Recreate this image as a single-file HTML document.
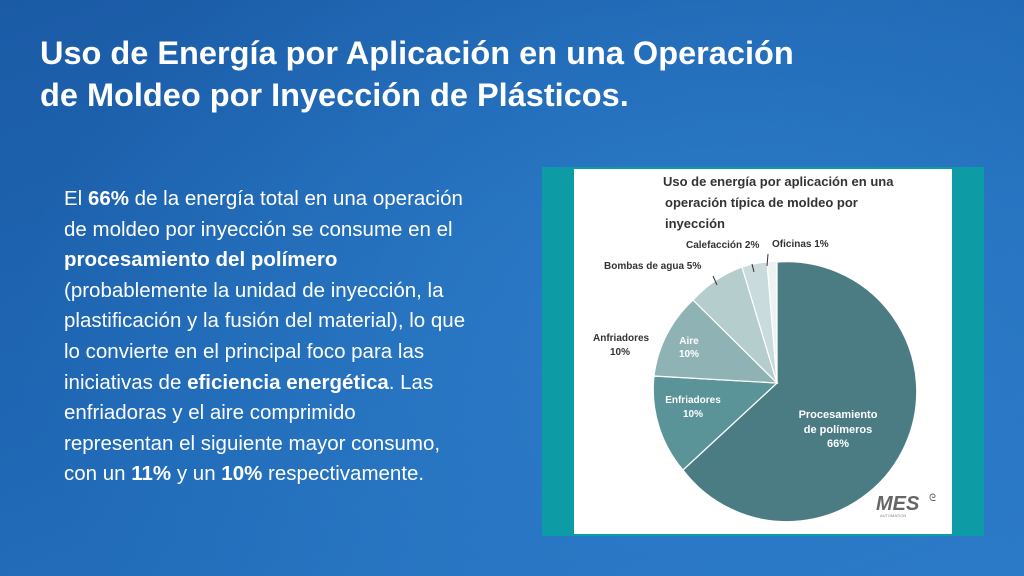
<!DOCTYPE html>
<html><head><meta charset="utf-8"><style>
html,body{margin:0;padding:0}
body{width:1024px;height:576px;overflow:hidden;position:relative;font-family:"Liberation Sans",sans-serif;
background:radial-gradient(ellipse 700px 500px at 720px 330px,#2d7dca 0%,rgba(45,125,202,0) 100%),linear-gradient(160deg,#1b5ba6 0%,#1f68b5 50%,#2a78c6 100%);}
h1{position:absolute;left:40px;top:32px;margin:0;color:#fff;font-size:32.5px;line-height:42px;font-weight:bold;white-space:nowrap}
.body{position:absolute;left:64px;top:184px;color:#fff;font-size:20.5px;line-height:30.6px;white-space:nowrap}
.chart{position:absolute;left:542px;top:167px;width:442px;height:369px;background:#0d9ba6}
.inner{position:absolute;left:32px;top:2px;width:378px;height:365px;background:#fff}
</style></head><body>
<h1>Uso de Energía por Aplicación en una Operación<br>de Moldeo por Inyección de Plásticos.</h1>
<div class="body">El <b>66%</b> de la energía total en una operación<br>de moldeo por inyección se consume en el<br><b>procesamiento del polímero</b><br>(probablemente la unidad de inyección, la<br>plastificación y la fusión del material), lo que<br>lo convierte en el principal foco para las<br>iniciativas de <b>eficiencia energética</b>. Las<br>enfriadoras y el aire comprimido<br>representan el siguiente mayor consumo,<br>con un <b>11%</b> y un <b>10%</b> respectivamente.</div>
<div class="chart"><div class="inner"></div></div>
<svg style="position:absolute;left:0;top:0" width="1024" height="576" font-family="Liberation Sans,sans-serif">
<g font-size="13" font-weight="bold" fill="#333">
<text x="663" y="186">Uso de energía por aplicación en una</text>
<text x="665" y="207">operación típica de moldeo por</text>
<text x="665" y="228">inyección</text>
</g>
<g stroke="#fff" stroke-width="1.2">
<path d="M777,383 L777,262 A130,130 0 1,1 683,470 Z" fill="#4b7b83"/>
<path d="M777,383 L683,470 A124,124 0 0,1 654,376 Z" fill="#5a9499"/>
<path d="M777,383 L654,376 A124,124 0 0,1 693,300 Z" fill="#8fb3b5"/>
<path d="M777,383 L693,300 A122,122 0 0,1 742,267 Z" fill="#b6cdce"/>
<path d="M777,383 L742,267 A122,122 0 0,1 767,262 Z" fill="#c9dbdc"/>
<path d="M777,383 L767,262 A122,122 0 0,1 777,261 Z" fill="#edf3f3"/>
</g>
<g stroke="#333" stroke-width="1">
<line x1="713" y1="276" x2="717" y2="285"/>
<line x1="752" y1="264" x2="754" y2="272"/>
<line x1="768" y1="254" x2="767" y2="266"/>
</g>
<g font-size="10" font-weight="bold" fill="#333">
<text x="604" y="269">Bombas de agua 5%</text>
<text x="686" y="248">Calefacción 2%</text>
<text x="772" y="247">Oficinas 1%</text>
<text x="593" y="341">Anfriadores</text>
<text x="610" y="355">10%</text>
</g>
<g font-size="10" font-weight="bold" fill="#fff" text-anchor="middle">
<text x="689" y="344">Aire</text>
<text x="689" y="357">10%</text>
<text x="693" y="403">Enfriadores</text>
<text x="693" y="417">10%</text>
<text x="838" y="418" font-size="11">Procesamiento</text>
<text x="838" y="433" font-size="11">de polímeros</text>
<text x="838" y="447" font-size="11">66%</text>
</g>
<text x="876" y="510" font-size="20" font-style="italic" font-weight="bold" fill="#666">MES</text>
<text x="929" y="501" font-size="10" fill="#666">ᘓ</text>
<text x="880" y="517" font-size="4" fill="#888">AUTOMATION</text>
</svg>
</body></html>
